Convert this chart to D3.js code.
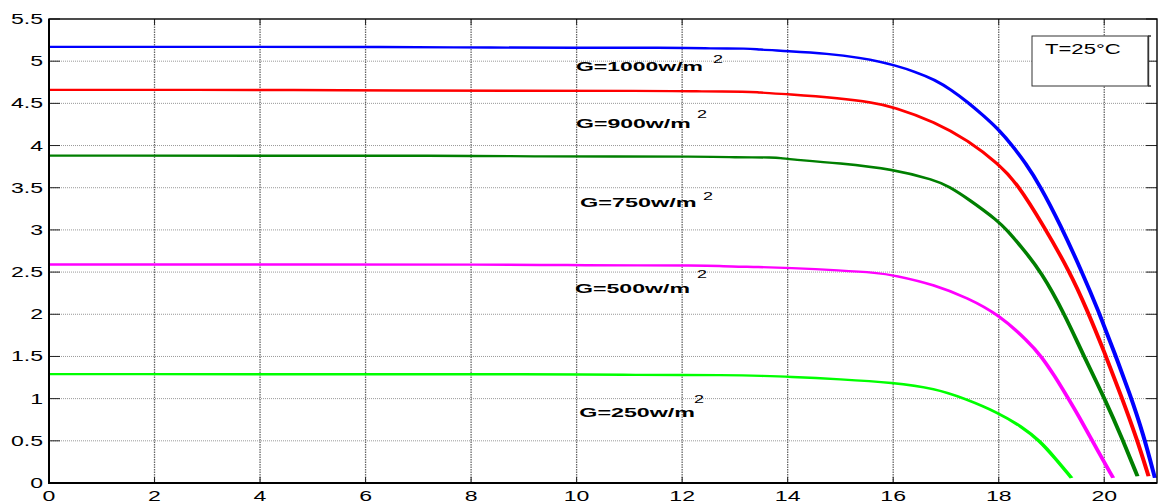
<!DOCTYPE html>
<html>
<head>
<meta charset="utf-8">
<script src="https://cdn.jsdelivr.net/npm/d3@7"></script>
<style>
  html, body { margin: 0; padding: 0; background: #fff; }
  svg { display: block; }
  text { font-family: "Liberation Sans", Arial, sans-serif; }
</style>
</head>
<body>
<svg id="chart" width="1158" height="503"></svg>
<script>
// ---------- data (voltage V, current A) ----------
const xTicks = [0, 2, 4, 6, 8, 10, 12, 14, 16, 18, 20];
const yTicks = [0, 0.5, 1, 1.5, 2, 2.5, 3, 3.5, 4, 4.5, 5, 5.5];
const yTickLabels = ["0", "0.5", "1", "1.5", "2", "2.5", "3", "3.5", "4", "4.5", "5", "5.5"];

const g1000 = [[0,5.17],[7.5,5.17],[7.6,5.16],[12.3,5.16],[12.4,5.15],[13.3,5.15],[13.4,5.14],[14,5.12],[14.76,5.09],[15.39,5.04],[15.78,4.99],[16,4.955],[16.4,4.88],[16.79,4.78],[17.1,4.66],[17.42,4.51],[17.7,4.36],[18,4.19],[18.27,3.99],[18.5,3.8],[18.78,3.53],[19.17,3.06],[19.58,2.5],[19.89,2.04],[20.19,1.55],[20.49,1.05],[20.74,0.58],[20.96,0.06]];
const g900 = [[0,4.66],[5.55,4.66],[5.6,4.65],[12.15,4.65],[12.2,4.64],[13.3,4.64],[13.4,4.63],[14,4.61],[15,4.56],[15.6,4.51],[16,4.46],[16.79,4.28],[17.42,4.06],[18,3.78],[18.35,3.55],[18.85,3.05],[19.35,2.5],[19.67,2.06],[20.01,1.54],[20.33,1.02],[20.62,0.52],[20.84,0.08]];
const g750 = [[0,3.88],[8.6,3.88],[8.65,3.87],[12.8,3.87],[12.85,3.86],[13.8,3.86],[13.85,3.85],[14,3.84],[15,3.79],[16,3.72],[16.79,3.59],[17.04,3.52],[17.42,3.37],[18,3.1],[18.15,3.0],[18.43,2.8],[18.81,2.5],[19.25,2.0],[19.6,1.52],[20.01,1.0],[20.36,0.5],[20.63,0.08]];
const g500 = [[0,2.59],[9.65,2.59],[9.7,2.58],[12.6,2.58],[12.65,2.57],[13.5,2.56],[14,2.55],[15,2.52],[15.71,2.49],[16,2.465],[16.79,2.35],[17.42,2.19],[17.99,2.0],[18.56,1.68],[18.81,1.5],[19.06,1.27],[19.32,1.0],[19.51,0.8],[19.79,0.48],[20.17,0.06]];
const g250 = [[0,1.29],[10.7,1.29],[10.75,1.28],[13.0,1.28],[13.5,1.27],[14,1.26],[15,1.23],[16,1.19],[16.79,1.12],[17.36,1.0],[18,0.83],[18.43,0.67],[18.78,0.5],[19.06,0.3],[19.38,0.06]];

const seriesNames = ["G=1000w/m", "G=900w/m", "G=750w/m", "G=500w/m", "G=250w/m"];
const seriesColors = ["#0000ff", "#ff0000", "#007f00", "#ff00ff", "#00ff00"];
const legendText = "T=25°C";

// ---------- layout ----------
const svg = d3.select("#chart");
const L = 49, R = 1157, T = 19, B = 483;
const x = d3.scaleLinear().domain([0, 21]).range([L, R]);
const y = d3.scaleLinear().domain([0, 5.5]).range([B, T]);
const K = 1.7; // horizontal stretch of the original picture
const xs = d3.scaleLinear().domain([0, 21]).range([L / K, R / K]);

svg.append("rect").attr("width", 1158).attr("height", 503).attr("fill", "#fff");

// grid
const grid = svg.append("g");
grid.selectAll("line.h").data(yTicks.filter(v => v > 0 && v < 5.5)).join("line")
  .attr("x1", L).attr("x2", R).attr("y1", d => y(d)).attr("y2", d => y(d))
  .attr("stroke", "#999").attr("stroke-width", 1).attr("stroke-dasharray", "1,1");
grid.selectAll("line.v").data(xTicks.filter(v => v > 0)).join("line")
  .attr("x1", d => x(d)).attr("x2", d => x(d)).attr("y1", T).attr("y2", B)
  .attr("stroke", "#666").attr("stroke-width", 1.3).attr("stroke-dasharray", "1.5,1");

// ticks (inside, all four sides)
const ticks = svg.append("g").attr("stroke", "#222").attr("stroke-width", 1);
ticks.selectAll("line.yl").data(yTicks).join("line")
  .attr("x1", L).attr("x2", L + 11).attr("y1", d => y(d)).attr("y2", d => y(d));
ticks.selectAll("line.yr").data(yTicks).join("line")
  .attr("x1", R - 11).attr("x2", R).attr("y1", d => y(d)).attr("y2", d => y(d));
ticks.selectAll("line.xb").data(xTicks).join("line")
  .attr("x1", d => x(d)).attr("x2", d => x(d)).attr("y1", B).attr("y2", B - 6);
ticks.selectAll("line.xt").data(xTicks).join("line")
  .attr("x1", d => x(d)).attr("x2", d => x(d)).attr("y1", T).attr("y2", T + 6);

// curves (drawn in stretched space like the original)
const line = d3.line().x(d => xs(d[0])).y(d => y(d[1])).curve(d3.curveBasis);
const curves = svg.append("g").attr("transform", `scale(${K},1)`);
[g1000, g900, g750, g500, g250].forEach((s, i) => {
  curves.append("path").datum(s).attr("d", line)
    .attr("fill", "none").attr("stroke", seriesColors[i])
    .attr("stroke-width", 2.4).attr("stroke-linejoin", "round");
});

// frame
svg.append("rect").attr("x", L).attr("y", T).attr("width", R - L).attr("height", B - T)
  .attr("fill", "none").attr("stroke", "#000").attr("stroke-width", 1.4);
svg.append("line").attr("x1", L).attr("x2", L).attr("y1", T).attr("y2", B + 1)
  .attr("stroke", "#000").attr("stroke-width", 2);
svg.append("line").attr("x1", L - 1).attr("x2", R).attr("y1", B).attr("y2", B)
  .attr("stroke", "#000").attr("stroke-width", 2);

// tick labels (stretched)
function stext(parent, tx, ty, str, opts) {
  const g = parent.append("g").attr("transform", `translate(${tx},${ty})`);
  const t = g.append("text").text(str)
    .attr("font-size", opts.size).attr("font-weight", opts.weight || "normal")
    .attr("text-anchor", opts.anchor || "start").attr("fill", "#000")
    .attr("transform", `scale(${opts.sx},1)`);
  return t;
}
yTicks.forEach((v, i) => stext(svg, 43, y(v) + 5, yTickLabels[i], { size: 14, sx: 1.65, anchor: "end" }));
xTicks.forEach(v => stext(svg, x(v), 500.5, String(v), { size: 14, sx: 1.65, anchor: "middle" }));

// curve labels
const labelPos = [
  { x: 576, y: 70.7, w: 127, sx: 713, sy: 62.7 },
  { x: 576, y: 128.3, w: 114.7, sx: 697, sy: 118.3 },
  { x: 580, y: 206.7, w: 116.7, sx: 703, sy: 200 },
  { x: 575, y: 292.7, w: 115, sx: 697, sy: 278 },
  { x: 579.3, y: 417.3, w: 115.7, sx: 694, sy: 402.7 }
];
labelPos.forEach((p, i) => {
  svg.append("text").attr("x", p.x).attr("y", p.y).text(seriesNames[i])
    .attr("font-size", 12.5).attr("font-weight", "bold")
    .attr("textLength", p.w).attr("lengthAdjust", "spacingAndGlyphs");
  stext(svg, p.sx, p.sy, "2", { size: 10.7, sx: 1.68 });
});

// legend box
svg.append("rect").attr("x", 1032).attr("y", 36).attr("width", 116).attr("height", 50)
  .attr("fill", "#fff").attr("stroke", "#333").attr("stroke-width", 1);
svg.append("path").attr("d", "M1148,36 H1151 M1148,86 H1151 M1148.5,36 V86")
  .attr("stroke", "#333").attr("stroke-width", 1.4).attr("fill", "none");
svg.append("text").attr("x", 1045).attr("y", 54).text(legendText)
  .attr("font-size", 14.5).attr("textLength", 75.7).attr("lengthAdjust", "spacingAndGlyphs");
</script>
</body>
</html>
